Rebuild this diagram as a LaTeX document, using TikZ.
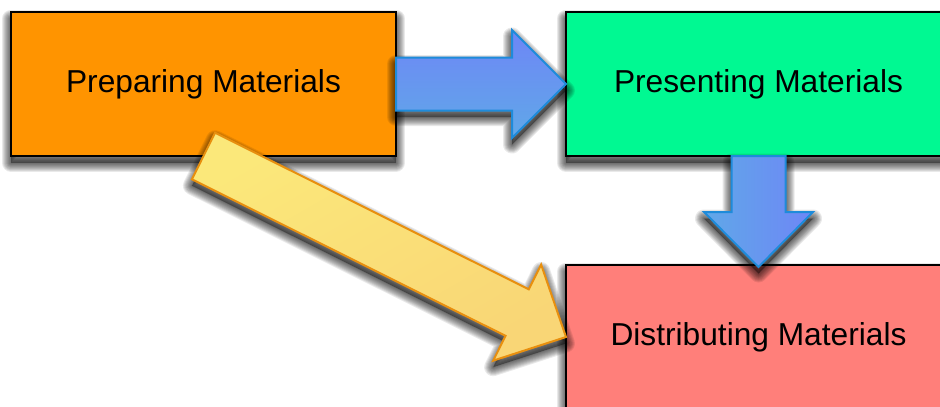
\documentclass[tikz,border=0pt]{standalone}
\usepackage{fontspec}
\setmainfont{Liberation Sans}
\usetikzlibrary{calc}

\pgfdeclarelayer{shadows}
\pgfsetlayers{shadows,main}

\definecolor{prepfill}{RGB}{255,148,0}
\definecolor{presfill}{RGB}{0,249,146}
\definecolor{distfill}{RGB}{255,127,122}
\definecolor{blueedge}{RGB}{30,139,218}
\definecolor{bluedark}{RGB}{110,134,246}
\definecolor{bluelight}{RGB}{96,168,232}
\definecolor{yellowedge}{RGB}{232,143,14}
\definecolor{yellowlight}{RGB}{251,232,122}
\definecolor{yellowdark}{RGB}{249,214,118}

\tikzset{
  stagebox/.style={draw=black, line width=2.4pt, minimum width=385pt,
      minimum height=144pt, outer sep=0pt, inner sep=0pt,
      font=\fontsize{31.7}{38}\selectfont},
  bluearrow/.style={draw=blueedge, line width=2pt, line join=miter},
  yellowarrow/.style={draw=yellowedge, line width=2pt, line join=miter,
      top color=yellowlight, bottom color=yellowdark, shading angle=30},
  shadowring/.style={fill=black, draw=black, fill opacity=0.05,
      draw opacity=0.085, line join=round},
}

% Soft drop shadow: the path is stroked several times with growing widths
\newcommand\softshadow[1]{%
  \begin{scope}[transform canvas={yshift=-6.5pt}]
    \foreach \w in {2,4,...,18} {\path[shadowring, line width=\w pt] #1;}
  \end{scope}%
}

% Block arrow from #2 to #3: shaft half width #4, head half width #5, head length #6
\newcommand\blockarrow[6]{%
  \coordinate (ba-base) at ($(#3)!#6!(#2)$);
  \coordinate (ba-1) at ($(#2)!#4!90:(#3)$);
  \coordinate (ba-2) at ($(ba-base)!#4!90:(#3)$);
  \coordinate (ba-3) at ($(ba-base)!#5!90:(#3)$);
  \coordinate (ba-4) at ($(ba-base)!#5!-90:(#3)$);
  \coordinate (ba-5) at ($(ba-base)!#4!-90:(#3)$);
  \coordinate (ba-6) at ($(#2)!#4!-90:(#3)$);
  \softshadow{(ba-1) -- (ba-2) -- (ba-3) -- (#3) -- (ba-4) -- (ba-5) -- (ba-6) -- cycle}
  \path[#1] (ba-1) -- (ba-2) -- (ba-3) -- (#3) -- (ba-4) -- (ba-5) -- (ba-6) -- cycle;
}

\begin{document}
\begin{tikzpicture}[x=1pt, y=-1pt]
  \useasboundingbox (0,0) rectangle (940,407);
  \clip (0,0) rectangle (940,407);

  \node[stagebox, fill=prepfill] (prep) at (203.5,84) {Preparing Materials};
  \node[stagebox, fill=presfill] (pres) at (758.5,84) {Presenting Materials};
  \node[stagebox, fill=distfill] (dist) at (758.5,337) {Distributing Materials};

  \begin{pgfonlayer}{shadows}
    \foreach \b in {prep,pres,dist}
      {\softshadow{(\b.north west) rectangle (\b.south east)}}
  \end{pgfonlayer}

  \coordinate (distin) at ($(dist.north)+(0,2)$);

  \blockarrow{bluearrow, top color=bluedark, bottom color=bluelight}{prep.east}{pres.west}{26.5pt}{54pt}{54pt}
  \blockarrow{bluearrow, left color=bluelight, right color=bluedark}{pres.south}{distin}{27pt}{54.5pt}{55pt}
  \blockarrow{yellowarrow}{prep.south}{dist.west}{26pt}{53.7pt}{54.6pt}
\end{tikzpicture}
\end{document}
